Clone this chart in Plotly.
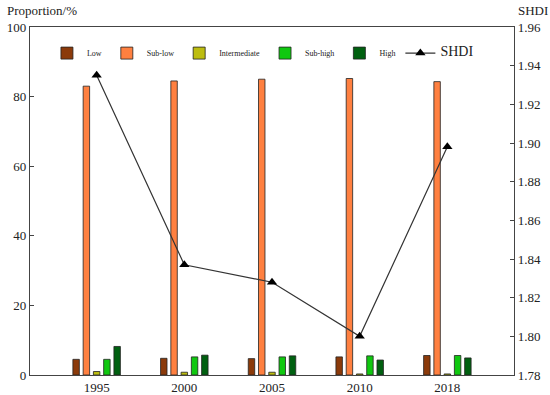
import plotly.graph_objects as go

years = ["1995", "2000", "2005", "2010", "2018"]
low = [4.5, 4.8, 4.7, 5.2, 5.6]
sub_low = [83.0, 84.5, 85.0, 85.2, 84.3]
intermediate = [1.0, 0.8, 0.8, 0.3, 0.3]
sub_high = [4.5, 5.2, 5.2, 5.5, 5.6]
high = [8.2, 5.7, 5.5, 4.3, 4.9]
shdi = [1.935, 1.837, 1.828, 1.800, 1.898]

series = [
    ("Low", low, "#8B3A0A"),
    ("Sub-low", sub_low, "#FF8040"),
    ("Intermediate", intermediate, "#BDBD10"),
    ("Sub-high", sub_high, "#10C810"),
    ("High", high, "#006010"),
]

FONT = "Liberation Serif, Times New Roman, serif"

fig = go.Figure()
for name, vals, col in series:
    fig.add_trace(go.Bar(
        x=years, y=vals, name=name,
        marker=dict(color=col, line=dict(color="#222222", width=0.8)),
        yaxis="y",
    ))

fig.add_trace(go.Scatter(
    x=years, y=shdi, name="<span style='font-size:14px'>SHDI</span>",
    mode="lines+markers", yaxis="y2",
    line=dict(color="#333333", width=1.2),
    marker=dict(symbol="triangle-up", size=9, color="black"),
))

axis_line = dict(showline=True, linecolor="#444444", linewidth=1.2, automargin=False)

fig.update_layout(
    width=550, height=395,
    margin=dict(l=30, r=36, t=27, b=20),
    plot_bgcolor="white", paper_bgcolor="white",
    font=dict(family=FONT, size=13, color="#222222"),
    barmode="group", bargap=0.415, bargroupgap=0.37,
    showlegend=True,
    legend=dict(
        orientation="h", x=0.035, y=0.925, xanchor="left", yanchor="middle",
        font=dict(size=8, family=FONT), itemwidth=30,
        bgcolor="rgba(0,0,0,0)", tracegroupgap=0,
    ),
    xaxis=dict(
        type="category", range=[-0.76, 4.76], ticks="", mirror=True,
        tickfont=dict(size=13), **axis_line,
    ),
    yaxis=dict(
        range=[0, 100], dtick=20, ticks="inside", ticklen=4, tickcolor="#444444",
        showgrid=False, zeroline=False, mirror=False,
        tickfont=dict(size=13), **axis_line,
    ),
    yaxis2=dict(
        range=[1.78, 1.96], dtick=0.02, tickformat=".2f", overlaying="y", side="right",
        ticks="inside", ticklen=4, tickcolor="#444444", showgrid=False, zeroline=False,
        tickfont=dict(size=13), **axis_line,
    ),
    annotations=[
        dict(text="Proportion/%", x=0, y=1, xref="paper", yref="paper",
             xshift=-25, yshift=7, xanchor="left", yanchor="bottom",
             showarrow=False, font=dict(size=13, family=FONT)),
        dict(text="SHDI", x=1, y=1, xref="paper", yref="paper",
             xshift=2, yshift=7, xanchor="left", yanchor="bottom",
             showarrow=False, font=dict(size=13, family=FONT)),
    ],
)

fig.write_html("out.html", config={"displayModeBar": False},
               post_script="document.body.style.margin='0';")
